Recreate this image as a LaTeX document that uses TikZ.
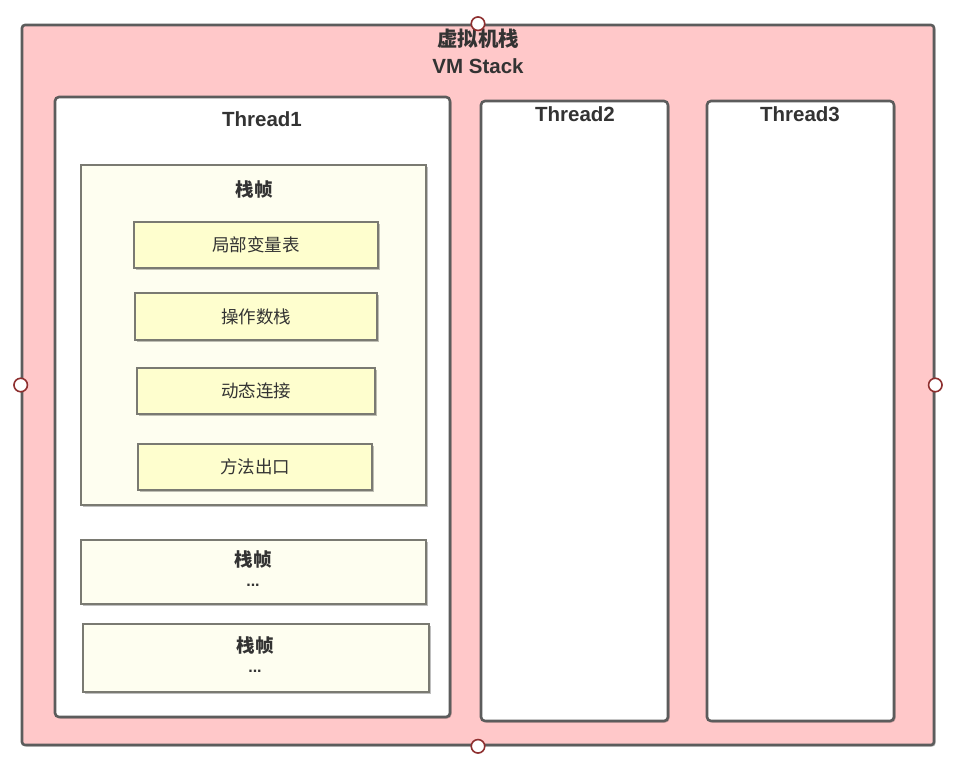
\documentclass[tikz,border=0pt]{standalone}
\usepackage{fontspec}
\setmainfont{Liberation Sans}
\newfontfamily\cjk{Noto Sans CJK SC}
\usetikzlibrary{shadows}
\definecolor{stackpink}{HTML}{FFC8C9}
\definecolor{edgedark}{HTML}{5C5C5C}
\definecolor{edgemid}{HTML}{7A7A72}
\definecolor{framefill}{HTML}{FEFEF0}
\definecolor{slotfill}{HTML}{FEFECE}
\definecolor{txt}{HTML}{333333}
\definecolor{pinred}{HTML}{8E2F2F}
\begin{document}
\begin{tikzpicture}[x=1pt,y=-1pt,
  softshadow/.style={drop shadow={shadow xshift=1.5pt,shadow yshift=-1.5pt,opacity=0.25,fill=black}},
  stackbox/.style={draw=edgedark,line width=2.6pt,fill=stackpink,rounded corners=3pt,softshadow},
  threadbox/.style={draw=edgedark,line width=2.6pt,fill=white,rounded corners=4pt,softshadow},
  framebox/.style={draw=edgemid,line width=2pt,fill=framefill,softshadow},
  slotbox/.style={draw=edgemid,line width=2pt,fill=slotfill,softshadow},
  pin/.style={circle,draw=pinred,line width=1.6pt,fill=white,minimum size=13.5pt,inner sep=0pt},
  bigtitle/.style={text=txt,font=\fontsize{20.5}{24}\selectfont\bfseries,inner sep=0pt},
  cjktitle/.style={text=txt,font=\cjk\fontsize{20.5}{24}\selectfont\bfseries,inner sep=0pt},
  frametitle/.style={text=txt,font=\cjk\fontsize{18.5}{22}\selectfont\bfseries,inner sep=0pt},
  slottext/.style={text=txt,font=\cjk\fontsize{17.5}{21}\selectfont,inner sep=0pt},
  dots/.style={text=txt,font=\fontsize{16}{18}\selectfont\bfseries,inner sep=0pt}
]
\useasboundingbox (0,0) rectangle (968,766);

% VM stack container
\node[stackbox,minimum width=912pt,minimum height=720pt,inner sep=0pt] (stack) at (478,385) {};
\node[cjktitle] (stackcn) at (478,39) {虚拟机栈};
\node[bigtitle] (stacken) at (478,66) {VM Stack};

% threads
\node[threadbox,minimum width=395pt,minimum height=620pt,inner sep=0pt] (t1) at (252.5,407) {};
\node[threadbox,minimum width=187pt,minimum height=620pt,inner sep=0pt] (t2) at (574.5,411) {};
\node[threadbox,minimum width=187pt,minimum height=620pt,inner sep=0pt] (t3) at (800.5,411) {};
\node[bigtitle] (t1title) at (262,119) {Thread1};
\node[bigtitle] (t2title) at (575,114) {Thread2};
\node[bigtitle] (t3title) at (800,114) {Thread3};

% expanded stack frame
\node[framebox,minimum width=345pt,minimum height=340pt,inner sep=0pt] (f1) at (253.5,335) {};
\node[frametitle] (f1title) at (254,189) {栈帧};
\node[slotbox,minimum width=244pt,minimum height=46pt,inner sep=0pt] (locals) at (256,245) {};
\node[slottext] at (locals.center) {局部变量表};
\node[slotbox,minimum width=242pt,minimum height=47pt,inner sep=0pt] (operand) at (256,316.5) {};
\node[slottext] at (operand.center) {操作数栈};
\node[slotbox,minimum width=238pt,minimum height=46pt,inner sep=0pt] (dynlink) at (256,391) {};
\node[slottext] at (dynlink.center) {动态连接};
\node[slotbox,minimum width=234pt,minimum height=46pt,inner sep=0pt] (retaddr) at (255,467) {};
\node[slottext] at (retaddr.center) {方法出口};

% further stack frames
\node[framebox,minimum width=345pt,minimum height=64pt,inner sep=0pt] (f2) at (253.5,572) {};
\node[frametitle] (f2title) at (253,559) {栈帧};
\node[dots] (f2dots) at (253,585) {...};
\node[framebox,minimum width=346pt,minimum height=68pt,inner sep=0pt] (f3) at (256,658) {};
\node[frametitle] (f3title) at (255,645) {栈帧};
\node[dots] (f3dots) at (255,671) {...};

% resize handles on the container
\node[pin] (pinN) at (stack.north) {};
\node[pin] (pinS) at (stack.south) {};
\node[pin] (pinW) at (stack.west) {};
\node[pin] (pinE) at (stack.east) {};
\end{tikzpicture}
\end{document}
